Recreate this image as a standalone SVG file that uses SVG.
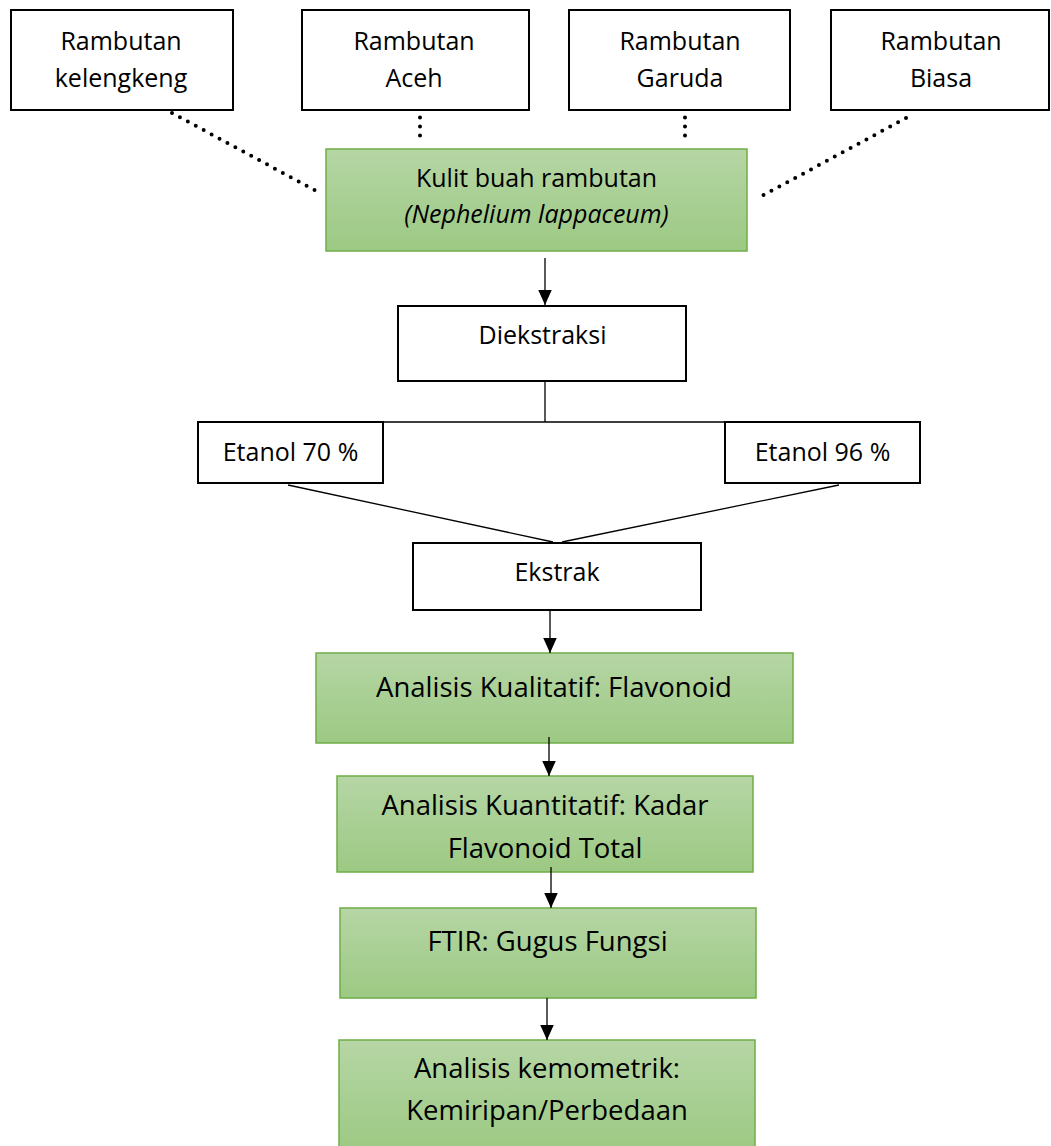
<svg xmlns="http://www.w3.org/2000/svg" width="1051" height="1146" viewBox="0 0 1051 1146">
<defs>
<linearGradient id="gr" x1="0" y1="0" x2="0" y2="1">
<stop offset="0" stop-color="#b6d6a5"/>
<stop offset="1" stop-color="#9cc983"/>
</linearGradient>
<marker id="ah" viewBox="0 0 10 10" refX="10" refY="5" markerWidth="15" markerHeight="15" markerUnits="userSpaceOnUse" orient="auto">
<path d="M0,0.5 L10,5 L0,9.5 z" fill="#000"/>
</marker>
</defs>
<style>
.bx{fill:#fff;stroke:#000;stroke-width:2}
.gb{fill:url(#gr);stroke:#70ad47;stroke-width:1.5}
.t{font-family:"Open Sans","Noto Sans","Liberation Sans",sans-serif;font-size:25px;fill:#000;text-anchor:middle}
.tl{font-family:"Open Sans","Noto Sans","Liberation Sans",sans-serif;font-size:27.5px;fill:#000;text-anchor:middle}
.it{font-style:italic}
.ln{stroke:#000;stroke-width:1.3;fill:none}
.ar{stroke:#000;stroke-width:1.3;fill:none;marker-end:url(#ah)}
.dt{stroke:#000;stroke-width:4;fill:none;stroke-linecap:round;stroke-dasharray:0 9}
</style>
<rect width="1051" height="1146" fill="#fff"/>
<g id="nodes">
<g id="n-kelengkeng"><rect class="bx" x="11" y="10" width="222" height="100"/><text class="t" x="121" y="50">Rambutan</text><text class="t" x="121" y="87">kelengkeng</text></g>
<g id="n-aceh"><rect class="bx" x="302" y="10" width="227" height="100"/><text class="t" x="414" y="50">Rambutan</text><text class="t" x="414" y="87">Aceh</text></g>
<g id="n-garuda"><rect class="bx" x="569" y="10" width="221" height="100"/><text class="t" x="680" y="50">Rambutan</text><text class="t" x="680" y="87">Garuda</text></g>
<g id="n-biasa"><rect class="bx" x="831" y="10" width="218" height="100"/><text class="t" x="941" y="50">Rambutan</text><text class="t" x="941" y="87">Biasa</text></g>
<g id="n-kulit"><rect class="gb" x="326" y="149" width="421" height="102"/><text class="t" x="536.5" y="187">Kulit buah rambutan</text><text class="t it" x="536.5" y="223">(Nephelium lappaceum)</text></g>
<g id="n-diekstraksi"><rect class="bx" x="398" y="306" width="288" height="75"/><text class="t" x="542.5" y="344">Diekstraksi</text></g>
<g id="n-etanol70"><rect class="bx" x="198" y="422" width="185" height="61"/><text class="t" x="290.5" y="461">Etanol 70 %</text></g>
<g id="n-etanol96"><rect class="bx" x="725" y="422" width="195" height="61"/><text class="t" x="822.5" y="461">Etanol 96 %</text></g>
<g id="n-ekstrak"><rect class="bx" x="413" y="543" width="288" height="67"/><text class="t" x="557" y="581">Ekstrak</text></g>
<g id="n-kualitatif"><rect class="gb" x="316" y="653" width="477" height="90"/><text class="tl" x="554" y="697">Analisis Kualitatif: Flavonoid</text></g>
<g id="n-kuantitatif"><rect class="gb" x="337" y="776" width="416" height="96"/><text class="tl" x="545" y="815">Analisis Kuantitatif: Kadar</text><text class="tl" x="545" y="858">Flavonoid Total</text></g>
<g id="n-ftir"><rect class="gb" x="340" y="908" width="416" height="90"/><text class="tl" x="547.5" y="951">FTIR: Gugus Fungsi</text></g>
<g id="n-kemometrik"><rect class="gb" x="339" y="1040" width="416" height="112"/><text class="tl" x="547" y="1078">Analisis kemometrik:</text><text class="tl" x="547" y="1120">Kemiripan/Perbedaan</text></g>
</g>
<g id="connectors">
<path class="dt" d="M172,113 L320,193"/>
<path class="dt" d="M420,117.5 L420,136.5"/>
<path class="dt" d="M685,117.5 L685,136.5"/>
<path class="dt" d="M906,118 L760,197"/>
<path class="ar" d="M545,258 L545,305"/>
<path class="ln" d="M545,381 L545,422 M383,422 L725,422"/>
<path class="ln" d="M288,485 L553,542 M839,485 L562,542"/>
<path class="ar" d="M550,611 L550,653"/>
<path class="ar" d="M549,737 L549,776"/>
<path class="ar" d="M551,867 L551,908"/>
<path class="ar" d="M547,998 L547,1040"/>
</g>
</svg>
